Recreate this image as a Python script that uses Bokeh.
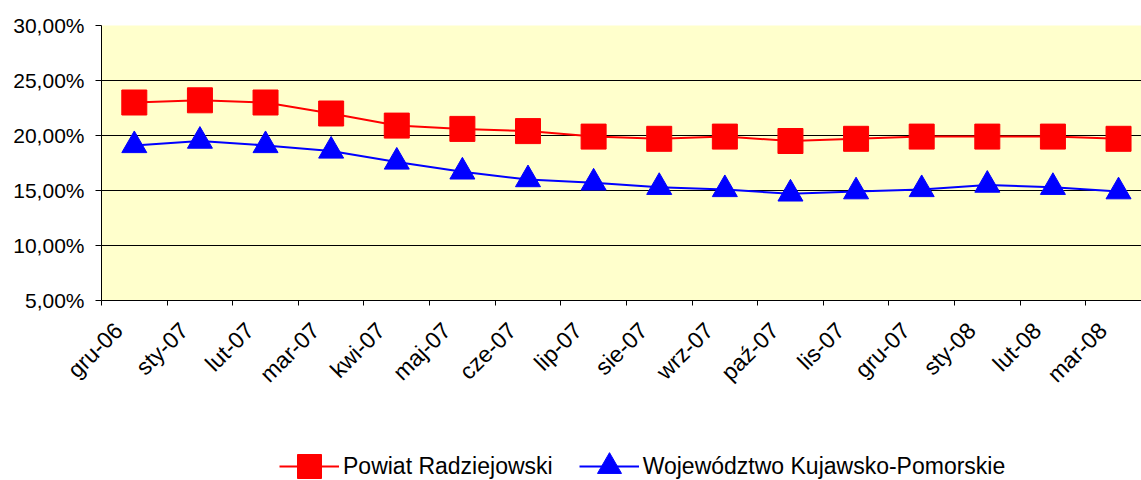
import math
from bokeh.plotting import figure
from bokeh.layouts import column
from bokeh.models import Range1d, FixedTicker, Legend, CustomJSTickFormatter
from bokeh.embed import file_html
from bokeh.resources import INLINE

categories = ["gru-06", "sty-07", "lut-07", "mar-07", "kwi-07", "maj-07", "cze-07", "lip-07",
              "sie-07", "wrz-07", "paź-07", "lis-07", "gru-07", "sty-08", "lut-08", "mar-08"]
powiat = [23.0, 23.2, 23.0, 22.0, 20.9, 20.6, 20.4, 19.9, 19.7, 19.9, 19.5, 19.7, 19.9, 19.9, 19.9, 19.7]
wojew = [19.1, 19.5, 19.1, 18.6, 17.6, 16.7, 16.0, 15.7, 15.3, 15.1, 14.7, 14.9, 15.1, 15.5, 15.3, 14.9]
y_ticks = [5, 10, 15, 20, 25, 30]
y_labels = ["5,00%", "10,00%", "15,00%", "20,00%", "25,00%", "30,00%"]
series_names = ["Powiat Radziejowski", "Województwo Kujawsko-Pomorskie"]

FONT = "Liberation Sans"
xs = list(range(len(categories)))
LABEL_SHIFT = 0.24

p = figure(frame_width=1040, frame_height=275, output_backend="svg", toolbar_location=None,
           x_range=Range1d(-0.5, 15.35), y_range=Range1d(5, 30),
           min_border_left=101, min_border_top=25, min_border_right=0, min_border_bottom=105)
p.background_fill_color = "#FFFFCC"
p.border_fill_color = "white"
p.outline_line_color = None

# grid
p.xgrid.visible = False
p.ygrid.ticker = FixedTicker(ticks=y_ticks)
p.ygrid.grid_line_color = "black"
p.ygrid.grid_line_width = 1

# y axis
p.yaxis.ticker = FixedTicker(ticks=y_ticks)
p.yaxis.major_label_overrides = {t: l for t, l in zip(y_ticks, y_labels)}
p.yaxis.major_label_text_font = FONT
p.yaxis.major_label_text_font_size = "21px"
p.yaxis.major_label_text_color = "black"
p.yaxis.axis_line_color = "black"
p.yaxis.major_tick_line_color = "black"
p.yaxis.major_tick_out = 6
p.yaxis.major_tick_in = 0
p.yaxis.minor_tick_line_color = None
p.yaxis.major_label_standoff = 11

# x axis
p.xaxis.ticker = FixedTicker(ticks=[i - LABEL_SHIFT for i in xs],
                             minor_ticks=[i - 0.5 for i in range(len(categories) + 1)])
p.xaxis.formatter = CustomJSTickFormatter(args=dict(labels=categories, shift=LABEL_SHIFT),
                                          code="const i = Math.round(tick + shift); return labels[i] || '';")
p.xaxis.major_label_orientation = math.pi / 4
p.xaxis.major_label_text_font = FONT
p.xaxis.major_label_text_font_size = "23px"
p.xaxis.major_label_text_color = "black"
p.xaxis.axis_line_color = "black"
p.xaxis.major_tick_out = 0
p.xaxis.major_tick_in = 0
p.xaxis.minor_tick_line_color = "black"
p.xaxis.minor_tick_out = 5
p.xaxis.minor_tick_in = 0
p.xaxis.major_label_standoff = 21

p.line(xs, powiat, line_color="red", line_width=2)
p.scatter(xs, powiat, marker="square", size=25, fill_color="red", line_color="red")
p.line(xs, wojew, line_color="blue", line_width=2)
p.scatter(xs, wojew, marker="triangle", size=25, fill_color="blue", line_color="blue")

# legend strip below the chart (series drawn out of view; only the legend shows)
q = figure(width=1141, height=75, output_backend="svg", toolbar_location=None,
           x_range=Range1d(-100, -99), y_range=Range1d(-100, -99),
           x_axis_location=None, y_axis_location=None,
           min_border_left=0, min_border_right=0, min_border_top=0, min_border_bottom=0,
           outline_line_color=None)
q.grid.visible = False
l1 = q.line(xs, powiat, line_color="red", line_width=2)
s1 = q.scatter(xs, powiat, marker="square", size=25, fill_color="red", line_color="red")
l2 = q.line(xs, wojew, line_color="blue", line_width=2)
s2 = q.scatter(xs, wojew, marker="triangle", size=25, fill_color="blue", line_color="blue")

legend = Legend(items=[(series_names[0], [l1, s1]), (series_names[1], [l2, s2])],
                orientation="horizontal", location=(178, -17),
                label_text_font=FONT, label_text_font_size="23px", label_text_color="black",
                glyph_width=60, glyph_height=62, spacing=26, label_standoff=4,
                border_line_color=None, background_fill_alpha=0,
                margin=0, padding=0)
q.add_layout(legend, "center")

layout = column(p, q, spacing=0)
open("out.html", "w").write(file_html(layout, INLINE))
